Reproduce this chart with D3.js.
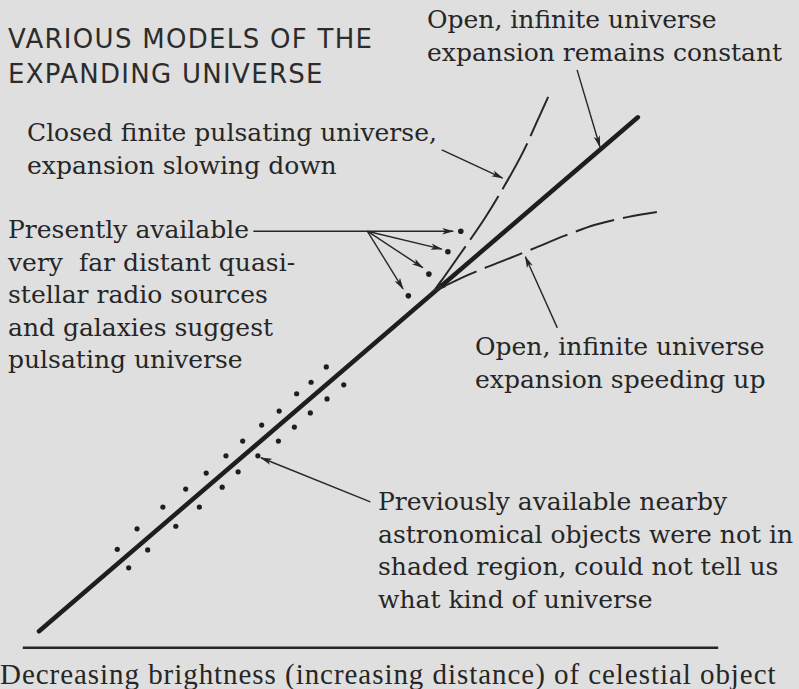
<!DOCTYPE html>
<html>
<head>
<meta charset="utf-8">
<script src="https://cdn.jsdelivr.net/npm/d3@7"></script>
<style>
  html, body { margin: 0; padding: 0; background: #dfdfdf; }
  svg text { fill: #262626; white-space: pre; }
  .title { font-family: "DejaVu Sans", sans-serif; font-size: 26px; letter-spacing: 1.3px; fill: #2c2c2c; }
  .note { font-family: "DejaVu Serif", serif; font-size: 25px; }
  .xlabel { font-family: "Liberation Serif", serif; font-size: 29px; letter-spacing: 0.95px; }
</style>
</head>
<body>
<div id="chart"></div>
<script>
// diagram units: x = decreasing brightness, y = velocity of recession (0..100)
var mainLine = [[2.5, 4.5], [81.3, 84.8]];

var closedCurve = [[54.7, 58.0], [57.9, 63.4], [61.2, 69.1], [63.8, 74.2],
                   [66.2, 79.4], [67.9, 83.8], [69.5, 88.0]];

var speedingCurve = [[55.3, 58.1], [59.2, 60.3], [63.2, 62.2], [67.8, 64.4],
                     [71.7, 66.3], [75.7, 68.0], [79.9, 69.2], [83.8, 70.0]];

var farDots = [[58.0, 67.0], [56.3, 63.8], [53.8, 60.3], [51.1, 56.9]];

var nearDots = [[40.3, 45.8], [38.3, 43.4], [42.6, 43.0], [36.4, 41.6], [40.4, 40.8],
                [34.1, 38.9], [38.2, 38.6], [31.8, 36.7], [36.1, 36.4], [29.3, 34.2],
                [34.0, 34.2], [27.1, 31.9], [31.3, 31.9], [24.5, 29.2], [28.7, 29.4],
                [26.6, 27.0], [21.8, 26.7], [18.8, 23.9], [23.6, 23.9], [15.4, 20.5],
                [20.5, 20.9], [12.8, 17.3], [16.8, 17.2], [14.3, 14.4]];

var axisExtent = [0.3, 91.8];
var axisLevel = 2.0;

var titleLines = ["VARIOUS MODELS OF THE", "EXPANDING UNIVERSE"];
var constantLines = ["Open, infinite universe", "expansion remains constant"];
var closedLines = ["Closed finite pulsating universe,", "expansion slowing down"];
var presentLines = ["Presently available", "very  far distant quasi-", "stellar radio sources",
                    "and galaxies suggest", "pulsating universe"];
var speedingLines = ["Open, infinite universe", "expansion speeding up"];
var previousLines = ["Previously available nearby", "astronomical objects were not in",
                     "shaded region, could not tell us", "what kind of universe"];
var xLabel = "Decreasing brightness (increasing distance) of celestial object";

// leader arrows [from, to]
var arrows = [
  [[73.3, 92.2], [76.3, 80.2]],   // remains constant
  [[55.5, 79.7], [63.5, 75.3]],   // slowing down
  [[70.7, 51.9], [66.5, 63.0]],   // speeding up
  [[46.1, 24.7], [31.7, 31.6]],   // previously available
  [[45.7, 67.0], [57.0, 67.0]],   // presently available -> top dot
  [[45.7, 67.0], [55.5, 64.2]],
  [[45.7, 67.0], [53.0, 61.3]],
  [[45.7, 67.0], [50.4, 58.0]]
];
var presentLead = [[30.7, 67.0], [45.7, 67.0]];
var convergeHead = [[56.2, 59.3], [54.2, 57.4]];

var width = 799, height = 689;

var x = d3.scaleLinear().domain([0, 100]).range([20, 780]);
var y = d3.scaleLinear().domain([0, 100]).range([660, 20]);

var svg = d3.select("#chart").append("svg")
  .attr("width", width)
  .attr("height", height)
  .style("display", "block");

svg.append("rect")
  .attr("width", width)
  .attr("height", height)
  .attr("fill", "#dfdfdf");

var defs = svg.append("defs");
defs.append("marker")
  .attr("id", "tip")
  .attr("viewBox", "0 -4 12 8")
  .attr("refX", 11)
  .attr("refY", 0)
  .attr("markerWidth", 12)
  .attr("markerHeight", 8)
  .attr("markerUnits", "userSpaceOnUse")
  .attr("orient", "auto")
  .append("path")
  .attr("d", "M0,-3.2L12,0L0,3.2L3,0Z")
  .attr("fill", "#262626");

defs.append("marker")
  .attr("id", "bigtip")
  .attr("viewBox", "0 -5 16 10")
  .attr("refX", 15)
  .attr("refY", 0)
  .attr("markerWidth", 16)
  .attr("markerHeight", 10)
  .attr("markerUnits", "userSpaceOnUse")
  .attr("orient", "auto")
  .append("path")
  .attr("d", "M0,-4.5L16,0L0,4.5L4,0Z")
  .attr("fill", "#262626");

var line = d3.line()
  .x(function(d){ return x(d[0]); })
  .y(function(d){ return y(d[1]); });

var smooth = d3.line()
  .x(function(d){ return x(d[0]); })
  .y(function(d){ return y(d[1]); })
  .curve(d3.curveCatmullRom.alpha(0.5));

// baseline axis, no ticks
var xAxisScale = d3.scaleLinear().domain(axisExtent).range([x(axisExtent[0]), x(axisExtent[1])]);
svg.append("g")
  .attr("class", "x-axis")
  .attr("transform", "translate(0," + y(axisLevel) + ")")
  .call(d3.axisBottom(xAxisScale).tickValues([]).tickSizeOuter(0))
  .select(".domain")
  .attr("stroke", "#262626")
  .attr("stroke-width", 2.5);

// model curves
svg.append("path")
  .attr("d", smooth(closedCurve))
  .attr("fill", "none")
  .attr("stroke", "#262626")
  .attr("stroke-width", 2)
  .attr("stroke-dasharray", "52,8");

svg.append("path")
  .attr("d", smooth(speedingCurve))
  .attr("fill", "none")
  .attr("stroke", "#262626")
  .attr("stroke-width", 2)
  .attr("stroke-dasharray", "40,9");

svg.append("path")
  .attr("d", line(mainLine))
  .attr("fill", "none")
  .attr("stroke", "#1e1e1e")
  .attr("stroke-width", 4.5)
  .attr("stroke-linecap", "round");

svg.append("path")
  .attr("d", line(convergeHead))
  .attr("fill", "none")
  .attr("stroke", "#1e1e1e")
  .attr("stroke-width", 2)
  .attr("marker-end", "url(#bigtip)");

// observations
svg.selectAll("circle.near")
  .data(nearDots)
  .enter().append("circle")
  .attr("class", "near")
  .attr("cx", function(d){ return x(d[0]); })
  .attr("cy", function(d){ return y(d[1]); })
  .attr("r", 2.6)
  .attr("fill", "#1e1e1e");

svg.selectAll("circle.far")
  .data(farDots)
  .enter().append("circle")
  .attr("class", "far")
  .attr("cx", function(d){ return x(d[0]); })
  .attr("cy", function(d){ return y(d[1]); })
  .attr("r", 2.8)
  .attr("fill", "#1e1e1e");

// leader arrows
svg.append("path")
  .attr("d", line(presentLead))
  .attr("fill", "none")
  .attr("stroke", "#262626")
  .attr("stroke-width", 1.4);

svg.selectAll("path.arrow")
  .data(arrows)
  .enter().append("path")
  .attr("class", "arrow")
  .attr("d", function(d){ return line(d); })
  .attr("fill", "none")
  .attr("stroke", "#262626")
  .attr("stroke-width", 1.4)
  .attr("marker-end", "url(#tip)");

// texts
function block(lines, cls, px, py, step) {
  svg.append("text")
    .attr("class", cls)
    .selectAll("tspan")
    .data(lines)
    .enter().append("tspan")
    .attr("x", px)
    .attr("y", function(d, i){ return py + i * step; })
    .text(function(d){ return d; });
}

block(titleLines, "title", 8, 48, 35);
block(constantLines, "note", 427, 28, 32.5);
block(closedLines, "note", 27, 141, 32.5);
block(presentLines, "note", 8, 238, 32.5);
block(speedingLines, "note", 475, 355, 32.5);
block(previousLines, "note", 378, 510, 32.5);

svg.append("text")
  .attr("class", "xlabel")
  .attr("x", 0)
  .attr("y", 684)
  .text(xLabel);
</script>
</body>
</html>
